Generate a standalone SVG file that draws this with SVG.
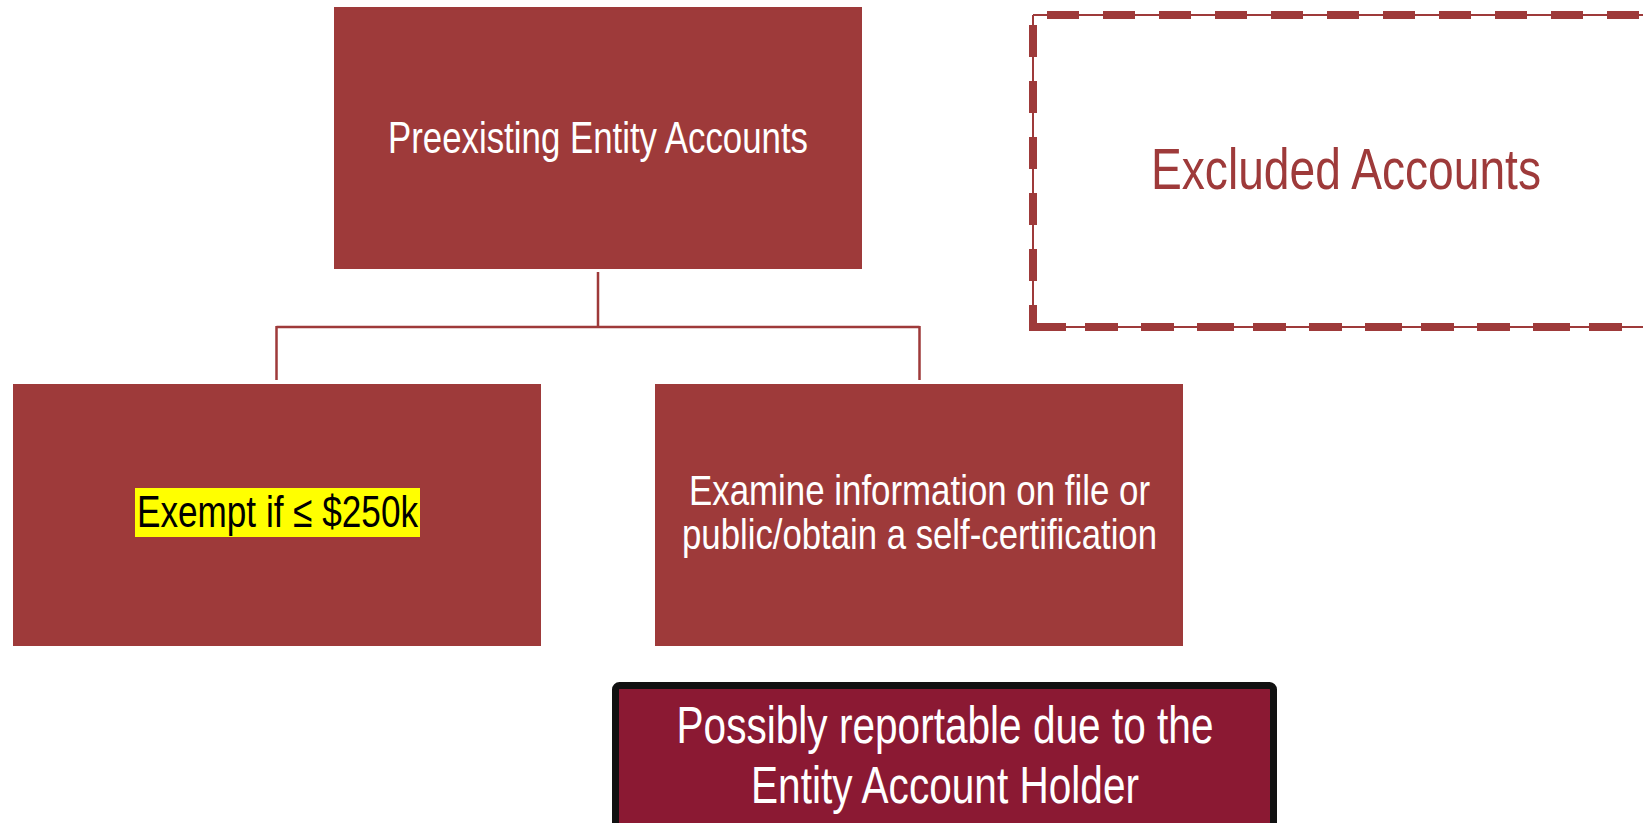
<svg xmlns="http://www.w3.org/2000/svg" width="1643" height="823" viewBox="0 0 1643 823">
<style>
.box{fill:#9E3A3A;}
.t{font-family:"Liberation Sans Narrow","Liberation Sans",Arial,sans-serif;text-anchor:middle;}
.w{fill:#FFFFFF;}
.conn{stroke:#9E3A3A;stroke-width:2.5;fill:none;}
.dash{stroke:#9E3A3A;stroke-width:8;fill:none;stroke-dasharray:32 24;}
.thin{stroke:#9E3A3A;stroke-width:2;fill:none;}
</style>
<rect width="1643" height="823" fill="#FFFFFF"/>
<g id="connectors">
<path class="conn" d="M598,272 V327 M276.5,327 H919.5 M276.5,326 V380 M919.5,326 V380"/>
</g>
<g id="node-preexisting">
<rect class="box" x="334" y="7" width="528" height="262"/>
<text class="t w" x="598" y="153" font-size="45" textLength="420" lengthAdjust="spacingAndGlyphs">Preexisting Entity Accounts</text>
</g>
<g id="node-excluded">
<path class="thin" d="M1033,15 V327 M1033,15 H1643 M1033,327 H1643"/>
<path class="dash" d="M1033,15 V327" stroke-dashoffset="46"/>
<path class="dash" d="M1033,15 H1643" stroke-dashoffset="42"/>
<path class="dash" d="M1029,327 H1643" stroke-dashoffset="0" style="stroke-dasharray:37 19 33 23 33 23"/>
<text class="t" x="1346" y="189" font-size="58" fill="#9E3A3A" textLength="390" lengthAdjust="spacingAndGlyphs">Excluded Accounts</text>
</g>
<g id="node-exempt">
<rect class="box" x="13" y="384" width="528" height="262"/>
<rect x="135" y="488" width="285" height="49" fill="#FFFF00"/>
<text class="t" x="277.5" y="527" font-size="45" fill="#000000" textLength="281" lengthAdjust="spacingAndGlyphs">Exempt if ≤ $250k</text>
</g>
<g id="node-examine">
<rect class="box" x="655" y="384" width="528" height="262"/>
<text class="t w" x="919.5" y="505" font-size="42" textLength="461" lengthAdjust="spacingAndGlyphs">Examine information on file or</text>
<text class="t w" x="919.5" y="549" font-size="42" textLength="475" lengthAdjust="spacingAndGlyphs">public/obtain a self-certification</text>
</g>
<g id="node-possibly">
<rect x="615.5" y="685.5" width="658" height="200" rx="4" fill="#8B1933" stroke="#111111" stroke-width="7"/>
<text class="t w" x="945" y="743" font-size="52" textLength="537" lengthAdjust="spacingAndGlyphs">Possibly reportable due to the</text>
<text class="t w" x="945" y="803" font-size="52" textLength="388" lengthAdjust="spacingAndGlyphs">Entity Account Holder</text>
</g>
</svg>
